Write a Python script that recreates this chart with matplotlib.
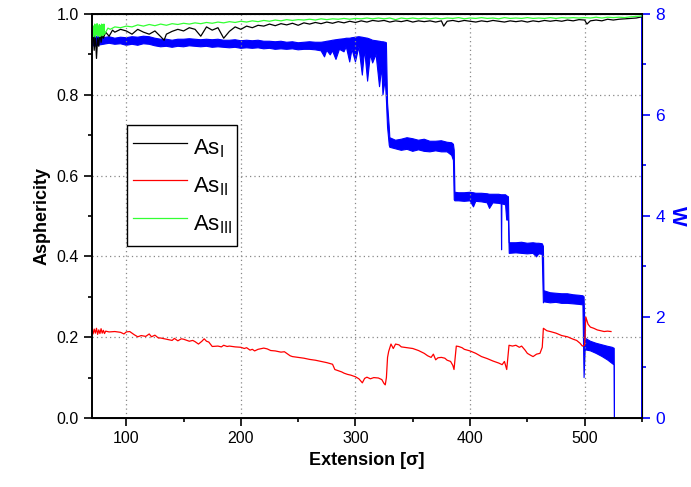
import matplotlib
matplotlib.use("Agg")
from matplotlib import pyplot as plt
from matplotlib.ticker import MultipleLocator

plt.rcParams['font.family'] = ['Liberation Sans', 'DejaVu Sans']
plt.rcParams['mathtext.fontset'] = 'custom'
plt.rcParams['mathtext.rm'] = 'Liberation Sans'
plt.rcParams['mathtext.it'] = 'Liberation Sans:italic'

# asphericity As_I (black)
as1_x = [70, 71, 72, 73, 74, 75, 76, 77, 78, 79, 80, 82, 85, 88,
         90, 95, 100, 105, 110, 115, 120, 125, 130, 133, 135, 140, 145, 150,
         155, 160, 165, 170, 175, 180, 185, 190, 195, 200, 205, 210, 215, 220,
         225, 230, 235, 240, 245, 250, 255, 260, 265, 270, 275, 280, 285, 290,
         295, 300, 305, 310, 315, 320, 325, 330, 335, 340, 345, 350, 355, 360,
         365, 370, 375, 377, 380, 385, 390, 395, 400, 405, 410, 415, 420, 425,
         430, 435, 440, 445, 450, 455, 460, 465, 470, 475, 480, 485, 490, 495,
         500, 502, 505, 510, 515, 520, 525, 530, 535, 540, 545, 550]
as1_y = [0.93, 0.96, 0.91, 0.95, 0.89, 0.94, 0.92, 0.96, 0.93, 0.95, 0.94, 0.955, 0.945, 0.96,
         0.955, 0.962, 0.958, 0.950, 0.962, 0.955, 0.950, 0.958, 0.944, 0.935, 0.950, 0.957, 0.962, 0.958,
         0.966, 0.962, 0.945, 0.968, 0.960, 0.966, 0.940, 0.957, 0.968, 0.962, 0.970, 0.966, 0.972, 0.970,
         0.975, 0.971, 0.976, 0.973, 0.977, 0.972, 0.978, 0.975, 0.979, 0.976, 0.980, 0.977, 0.981, 0.978,
         0.982, 0.979, 0.983, 0.980, 0.984, 0.982, 0.984, 0.980, 0.983, 0.981, 0.984, 0.980, 0.983, 0.981,
         0.983, 0.980, 0.983, 0.970, 0.982, 0.984, 0.981, 0.984, 0.982, 0.980, 0.983, 0.981, 0.984, 0.982,
         0.980, 0.983, 0.981, 0.983, 0.980, 0.983, 0.981, 0.984, 0.982, 0.984, 0.982, 0.985, 0.983, 0.986,
         0.985, 0.975, 0.983, 0.985, 0.983, 0.987, 0.985, 0.987, 0.988, 0.989, 0.990, 0.993]

# asphericity As_II (red)
as2_x = [70, 71, 72, 73, 74, 75, 76, 77, 78, 79, 80, 81, 82, 85, 90, 95, 98, 100,
         103, 107, 110, 113, 117, 120, 122, 125, 128, 130, 135, 140, 142, 145, 148,
         150, 155, 158, 160, 163, 166, 168, 170, 172, 175, 180, 183, 185, 188, 190,
         195, 200, 203, 205, 208, 210, 212, 215, 220, 223, 226, 230, 235, 238, 240,
         243, 245, 250, 255, 260, 265, 270, 275, 280, 282, 285, 288, 290, 293, 296,
         300, 303, 306, 308, 310, 313, 316, 320, 323, 325, 326, 327, 328, 329, 331,
         333, 335, 338, 340, 345, 350, 355, 360, 363, 366, 368, 370, 372, 375, 378,
         380, 383, 385, 386, 387, 388, 390, 393, 395, 400, 405, 410, 415, 420, 425,
         428, 430, 432, 433, 434, 437, 440, 443, 445, 448, 450, 453, 455, 458, 461,
         463, 464, 467, 470, 475, 480, 485, 490, 493, 496, 498, 500, 501, 503, 505,
         508, 511, 514, 517, 520, 523]
as2_y = [0.222, 0.208, 0.220, 0.210, 0.222, 0.207, 0.218, 0.209, 0.221, 0.210, 0.217, 0.209, 0.215, 0.213, 0.214, 0.212, 0.208, 0.213,
         0.214, 0.206, 0.201, 0.204, 0.202, 0.208, 0.201, 0.205, 0.198, 0.198, 0.195, 0.192, 0.197, 0.191, 0.196,
         0.195, 0.190, 0.192, 0.189, 0.183, 0.190, 0.196, 0.190, 0.188, 0.177, 0.178, 0.176, 0.180, 0.177, 0.178,
         0.176, 0.175, 0.172, 0.174, 0.168, 0.170, 0.166, 0.170, 0.173, 0.171, 0.167, 0.166, 0.163, 0.164, 0.160,
         0.154, 0.152, 0.150, 0.148, 0.145, 0.143, 0.140, 0.137, 0.133, 0.120, 0.117, 0.114, 0.111, 0.108, 0.106,
         0.102, 0.097, 0.087, 0.098, 0.101, 0.097, 0.100, 0.099, 0.095, 0.085, 0.082, 0.100, 0.150, 0.165, 0.183,
         0.172, 0.183, 0.181, 0.176, 0.174, 0.172, 0.167, 0.160, 0.154, 0.150, 0.158, 0.144, 0.149, 0.150, 0.148,
         0.143, 0.140, 0.130, 0.120, 0.150, 0.178, 0.177, 0.174, 0.170, 0.166, 0.160, 0.152, 0.147, 0.141, 0.136,
         0.132, 0.140, 0.120, 0.150, 0.180, 0.178, 0.180, 0.175, 0.178, 0.168, 0.160, 0.155, 0.152, 0.158, 0.160,
         0.175, 0.222, 0.216, 0.214, 0.210, 0.204, 0.201, 0.195, 0.192, 0.185, 0.178, 0.180, 0.250, 0.232, 0.225,
         0.222, 0.218, 0.216, 0.214, 0.215, 0.214]

# asphericity As_III (green)
as3_x = [70, 70.5, 71, 71.5, 72, 72.5, 73, 73.5, 74, 74.5, 75, 75.5, 76, 76.5, 77, 77.5,
         78, 78.5, 79, 79.5, 80, 80.5, 81, 82, 84, 86, 90, 95, 100, 105, 110, 115, 120,
         125, 130, 135, 140, 145, 150, 155, 160, 165, 170, 175, 180, 185, 190, 195, 200,
         205, 210, 215, 220, 225, 230, 235, 240, 245, 250, 255, 260, 265, 270, 275, 280,
         285, 290, 295, 300, 305, 310, 315, 320, 325, 330, 335, 340, 345, 350, 355, 360,
         365, 370, 375, 380, 385, 390, 395, 400, 405, 410, 415, 420, 425, 430, 435, 440,
         445, 450, 455, 460, 465, 470, 475, 480, 485, 490, 495, 500, 505, 510, 515, 520,
         525, 530, 535, 540, 545, 550]
as3_y = [0.95, 0.972, 0.944, 0.970, 0.948, 0.975, 0.943, 0.972, 0.950, 0.976, 0.945, 0.970, 0.948, 0.974, 0.944, 0.972,
         0.950, 0.975, 0.946, 0.973, 0.948, 0.975, 0.950, 0.955, 0.965, 0.962, 0.968, 0.966, 0.970, 0.968, 0.973, 0.970, 0.974,
         0.971, 0.975, 0.972, 0.976, 0.974, 0.977, 0.975, 0.978, 0.976, 0.979, 0.977, 0.980, 0.978, 0.981, 0.979, 0.982,
         0.980, 0.983, 0.981, 0.984, 0.982, 0.985, 0.983, 0.986, 0.984, 0.986, 0.985, 0.987, 0.985, 0.988, 0.986, 0.988,
         0.987, 0.989, 0.987, 0.989, 0.988, 0.990, 0.988, 0.990, 0.988, 0.990, 0.986, 0.990, 0.988, 0.990, 0.988, 0.990,
         0.988, 0.990, 0.988, 0.990, 0.989, 0.991, 0.988, 0.990, 0.989, 0.991, 0.989, 0.990, 0.988, 0.991, 0.989, 0.990,
         0.989, 0.991, 0.989, 0.990, 0.989, 0.991, 0.989, 0.991, 0.990, 0.991, 0.990, 0.991, 0.990, 0.992, 0.990, 0.992,
         0.991, 0.992, 0.991, 0.993, 0.994, 0.995]

# W: lower / upper envelope of the noisy band
w_x = [70, 72, 75, 80, 85, 90, 95, 100, 105, 110, 115, 120, 125, 130, 135, 140, 145,
       150, 155, 160, 165, 170, 175, 180, 185, 190, 195, 200, 205, 210, 215, 220,
       225, 230, 235, 240, 245, 250, 255, 260, 265, 270, 273, 275, 278, 280, 283,
       286, 290, 292, 295, 297, 300, 303, 306, 308, 310.6, 313, 315, 318, 321, 323,
       324, 326, 327, 328, 329.5, 330, 335, 340, 345, 350, 355, 360, 365, 370, 375,
       380, 384, 385.5, 386.2, 386.8, 390, 395, 400, 403, 405, 410, 415, 417, 420,
       425, 427.2, 427.5, 427.8, 431, 432, 433.5, 434.2, 440, 445, 450, 455, 458,
       460, 463, 464, 464.5, 470, 475, 480, 485, 490, 495, 498.5, 499.5, 500.5, 505,
       510, 515, 520, 524, 525.8, 526]
w_lo = [7.40, 7.36, 7.38, 7.40, 7.42, 7.40, 7.41, 7.38, 7.40, 7.38, 7.41, 7.40, 7.37, 7.35, 7.36, 7.34, 7.36,
        7.35, 7.37, 7.36, 7.35, 7.36, 7.34, 7.35, 7.34, 7.33, 7.34, 7.32, 7.33, 7.32, 7.33, 7.31,
        7.32, 7.30, 7.31, 7.30, 7.31, 7.29, 7.30, 7.30, 7.29, 7.27, 7.15, 7.28, 7.19, 7.27, 7.10,
        7.30, 7.25, 7.35, 7.05, 7.30, 7.05, 7.35, 6.79, 7.30, 6.67, 7.20, 7.03, 7.20, 6.56, 6.95,
        6.40, 6.70, 6.30, 5.76, 5.40, 5.36, 5.33, 5.30, 5.32, 5.28, 5.31, 5.28, 5.27, 5.29, 5.27,
        5.27, 5.20, 5.10, 4.32, 4.30, 4.30, 4.29, 4.30, 4.18, 4.29, 4.28, 4.26, 4.15, 4.26,
        4.25, 4.24, 3.33, 4.24, 4.22, 3.92, 3.92, 3.26, 3.27, 3.26, 3.25, 3.26, 3.19,
        3.25, 3.24, 2.28, 2.30, 2.28, 2.29, 2.27, 2.27, 2.26, 2.25, 2.24, 0.80, 1.35, 1.33,
        1.28, 1.22, 1.15, 1.08, 1.05, 0.0]
w_hi = [7.60, 7.58, 7.55, 7.53, 7.55, 7.52, 7.54, 7.53, 7.55, 7.54, 7.56, 7.55, 7.52, 7.50, 7.50, 7.48, 7.50,
        7.50, 7.51, 7.50, 7.49, 7.50, 7.49, 7.50, 7.48, 7.48, 7.49, 7.47, 7.48, 7.47, 7.48, 7.46,
        7.46, 7.45, 7.46, 7.44, 7.45, 7.43, 7.44, 7.45, 7.44, 7.44, 7.45, 7.46, 7.47, 7.48, 7.49,
        7.50, 7.51, 7.52, 7.52, 7.53, 7.54, 7.55, 7.54, 7.53, 7.52, 7.50, 7.48, 7.47, 7.46, 7.45,
        7.45, 7.44, 7.43, 6.24, 5.76, 5.55, 5.50, 5.52, 5.55, 5.53, 5.50, 5.52, 5.48, 5.48, 5.49,
        5.46, 5.45, 5.42, 5.30, 4.47, 4.46, 4.46, 4.47, 4.46, 4.45, 4.45, 4.44, 4.43, 4.43,
        4.43, 4.42, 4.42, 4.42, 4.42, 4.40, 4.38, 3.47, 3.47, 3.48, 3.46, 3.47, 3.46,
        3.46, 3.45, 3.40, 2.52, 2.48, 2.47, 2.46, 2.46, 2.44, 2.43, 2.42, 2.40, 1.58, 1.52,
        1.48, 1.45, 1.42, 1.40, 1.38, 0.0]

fig = plt.figure(figsize=(6.91, 4.87), dpi=100)
ax = fig.add_axes([0.133, 0.1417, 0.796, 0.8296])
ax2 = ax.twinx()

l1, = ax.plot(as1_x, as1_y, color='black', lw=0.9, label='As$_{\\mathrm{I}}$')
l2, = ax.plot(as2_x, as2_y, color='red', lw=0.9, label='As$_{\\mathrm{II}}$')
l3, = ax.plot(as3_x, as3_y, color='#33ff33', lw=0.9, label='As$_{\\mathrm{III}}$')

# the W band plus its outline, so the thin drops and spikes stay visible
ax2.fill_between(w_x, w_lo, w_hi, facecolor='blue', lw=0)
ax2.plot(w_x, w_lo, color='blue', lw=0.8)
ax2.plot(w_x, w_hi, color='blue', lw=0.8)

ax.set_xlim(70, 550)
ax.set_ylim(0, 1.0)
ax2.set_ylim(0, 8)

ax.xaxis.set_major_locator(MultipleLocator(100))
ax.xaxis.set_minor_locator(MultipleLocator(50))
ax.yaxis.set_major_locator(MultipleLocator(0.2))
ax.yaxis.set_minor_locator(MultipleLocator(0.1))
ax2.yaxis.set_major_locator(MultipleLocator(2))
ax2.yaxis.set_minor_locator(MultipleLocator(1))
ax.yaxis.set_major_formatter(plt.FormatStrFormatter('%.1f'))

ax.grid(True, which='major', ls=(0, (1, 2.5)), color='#888888', lw=0.9)
ax.set_axisbelow(True)

ax.tick_params(which='major', direction='out', length=6, width=1.2, labelsize=11.5)
ax.tick_params(which='minor', direction='out', length=3, width=1.2)
ax2.tick_params(which='major', direction='out', length=6, width=1.2, labelsize=12.5,
                colors='blue')
ax2.tick_params(which='minor', direction='out', length=3, width=1.2, colors='blue')

for s in ['left', 'bottom', 'top']:
    ax.spines[s].set_linewidth(1.4)
ax2.spines['right'].set_color('blue')
ax2.spines['right'].set_linewidth(1.4)
ax2.spines['left'].set_visible(False)

ax.set_xlabel('Extension [σ]', fontsize=13, fontweight='bold')
ax.set_ylabel('Asphericity', fontsize=13, fontweight='bold')
ax2.set_ylabel('W', fontsize=15, fontweight='bold', color='blue', rotation=270,
               labelpad=16)

leg = ax.legend(handles=[l1, l2, l3], loc='upper left', bbox_to_anchor=(0.064, 0.725),
                borderaxespad=0, fontsize=16, fancybox=False, edgecolor='black',
                framealpha=1, handlelength=2.45, handleheight=2.0, labelspacing=0.15,
                handletextpad=0.25, borderpad=0.25)
leg.get_frame().set_linewidth(1.0)
ax.set_zorder(ax2.get_zorder() + 1)
ax.patch.set_visible(False)

fig.savefig('out.png', dpi=100)
